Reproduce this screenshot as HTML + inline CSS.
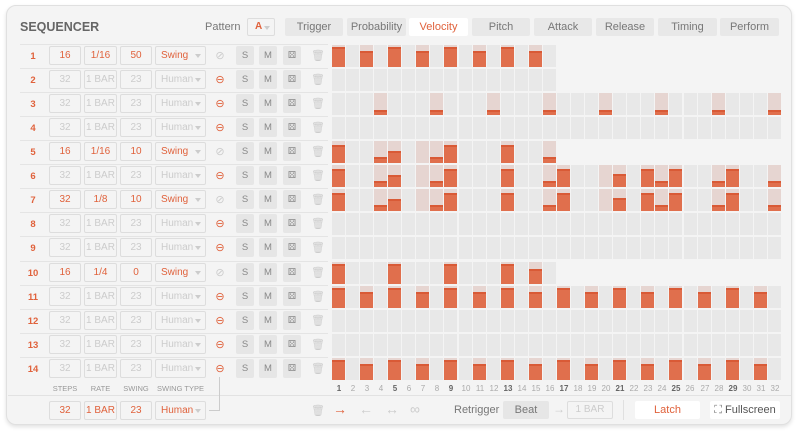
<!DOCTYPE html>
<html><head><meta charset="utf-8"><style>
*{box-sizing:border-box;margin:0;padding:0}
body{width:800px;height:433px;background:#fff;font-family:"Liberation Sans",sans-serif;position:relative;overflow:hidden}
.card{position:absolute;left:6px;top:5px;width:786px;height:420px;background:#f4f4f4;border:1px solid #e0e0e0;border-radius:10px;box-shadow:0 2px 4px rgba(0,0,0,.12)}
.a{position:absolute}
.t{position:absolute;font-size:11px;color:#777;white-space:nowrap}
.tab{position:absolute;top:18px;height:18px;background:#e8e8e8;border-radius:2px;font-size:11px;color:#777;text-align:center;line-height:18px}
.box{position:absolute;height:19px;border:1px solid #ddd;border-radius:2px;font-size:10px;text-align:center;line-height:17px;color:#ccc;background:#f4f4f4;white-space:nowrap;overflow:hidden}
.ty{text-align:left!important;padding-left:5px}
.on{color:#e0623c}
.num{position:absolute;left:22px;width:22px;text-align:center;font-size:9.5px;font-weight:bold;color:#e0623c}
.btn{position:absolute;width:18px;height:19px;background:#e6e6e6;border-radius:2px;font-size:9.5px;color:#888;text-align:center;line-height:19px}
.sep{position:absolute;left:20px;width:308px;height:1px;background:#e4e4e4}
.dd{position:absolute;right:4px;top:7px;width:0;height:0;border-left:3px solid transparent;border-right:3px solid transparent;border-top:4px solid #ccc}
.cell{position:absolute;background:#e8e8e8}
.pk{background:#e6d5d1}
.bar{position:absolute;left:0;right:0;bottom:0;background:#e06f4d;border-top:2px solid #d95a36}
.sn{position:absolute;top:384px;width:14px;text-align:center;font-size:8px;color:#aaa}
.lbl{position:absolute;top:384px;font-size:7.5px;color:#999;text-align:center}
.link{position:absolute;font-size:11px;color:#e0623c;width:16px;text-align:center}
</style></head><body>
<div class="card"></div>
<div class="t" style="left:20px;top:20px;font-size:12.5px;font-weight:bold;color:#666">SEQUENCER</div>
<div class="t" style="left:205px;top:21px">Pattern</div>
<div class="box" style="left:247px;top:18px;width:28px;height:18px;line-height:16px;color:#e0623c;text-align:left;padding-left:7px;font-weight:bold;font-size:10px">A<span class="dd"></span></div>
<div class="tab" style="left:285px;width:58px">Trigger</div>
<div class="tab" style="left:347px;width:59px">Probability</div>
<div class="tab" style="left:409px;width:59px;background:#fff;color:#e0623c">Velocity</div>
<div class="tab" style="left:472px;width:58px">Pitch</div>
<div class="tab" style="left:534px;width:58px">Attack</div>
<div class="tab" style="left:596px;width:58px">Release</div>
<div class="tab" style="left:658px;width:59px">Timing</div>
<div class="tab" style="left:720px;width:59px">Perform</div>

<div id="rows">
<div class="sep" style="top:44px"></div>
<div class="num" style="top:51px">1</div><div class="box on" style="left:49px;top:46px;width:32px">16</div><div class="box on" style="left:84px;top:46px;width:33px">1/16</div><div class="box on" style="left:120px;top:46px;width:32px">50</div><div class="box on ty" style="left:155px;top:46px;width:51px">Swing<span class="dd"></span></div><div class="link" style="left:212px;top:49px;color:#ccc">⊘</div>
<div class="sep" style="top:68px"></div>
<div class="num" style="top:75px">2</div><div class="box" style="left:49px;top:70px;width:32px">32</div><div class="box" style="left:84px;top:70px;width:33px">1 BAR</div><div class="box" style="left:120px;top:70px;width:32px">23</div><div class="box ty" style="left:155px;top:70px;width:51px">Human<span class="dd"></span></div><div class="link" style="left:212px;top:73px">⊖</div>
<div class="sep" style="top:92px"></div>
<div class="num" style="top:99px">3</div><div class="box" style="left:49px;top:94px;width:32px">32</div><div class="box" style="left:84px;top:94px;width:33px">1 BAR</div><div class="box" style="left:120px;top:94px;width:32px">23</div><div class="box ty" style="left:155px;top:94px;width:51px">Human<span class="dd"></span></div><div class="link" style="left:212px;top:97px">⊖</div>
<div class="sep" style="top:116px"></div>
<div class="num" style="top:123px">4</div><div class="box" style="left:49px;top:118px;width:32px">32</div><div class="box" style="left:84px;top:118px;width:33px">1 BAR</div><div class="box" style="left:120px;top:118px;width:32px">23</div><div class="box ty" style="left:155px;top:118px;width:51px">Human<span class="dd"></span></div><div class="link" style="left:212px;top:121px">⊖</div>
<div class="sep" style="top:140px"></div>
<div class="num" style="top:147px">5</div><div class="box on" style="left:49px;top:142px;width:32px">16</div><div class="box on" style="left:84px;top:142px;width:33px">1/16</div><div class="box on" style="left:120px;top:142px;width:32px">10</div><div class="box on ty" style="left:155px;top:142px;width:51px">Swing<span class="dd"></span></div><div class="link" style="left:212px;top:145px;color:#ccc">⊘</div>
<div class="sep" style="top:164px"></div>
<div class="num" style="top:171px">6</div><div class="box" style="left:49px;top:166px;width:32px">32</div><div class="box" style="left:84px;top:166px;width:33px">1 BAR</div><div class="box" style="left:120px;top:166px;width:32px">23</div><div class="box ty" style="left:155px;top:166px;width:51px">Human<span class="dd"></span></div><div class="link" style="left:212px;top:169px">⊖</div>
<div class="sep" style="top:188px"></div>
<div class="num" style="top:195px">7</div><div class="box on" style="left:49px;top:190px;width:32px">32</div><div class="box on" style="left:84px;top:190px;width:33px">1/8</div><div class="box on" style="left:120px;top:190px;width:32px">10</div><div class="box on ty" style="left:155px;top:190px;width:51px">Swing<span class="dd"></span></div><div class="link" style="left:212px;top:193px;color:#ccc">⊘</div>
<div class="sep" style="top:212px"></div>
<div class="num" style="top:219px">8</div><div class="box" style="left:49px;top:214px;width:32px">32</div><div class="box" style="left:84px;top:214px;width:33px">1 BAR</div><div class="box" style="left:120px;top:214px;width:32px">23</div><div class="box ty" style="left:155px;top:214px;width:51px">Human<span class="dd"></span></div><div class="link" style="left:212px;top:217px">⊖</div>
<div class="sep" style="top:236px"></div>
<div class="num" style="top:243px">9</div><div class="box" style="left:49px;top:238px;width:32px">32</div><div class="box" style="left:84px;top:238px;width:33px">1 BAR</div><div class="box" style="left:120px;top:238px;width:32px">23</div><div class="box ty" style="left:155px;top:238px;width:51px">Human<span class="dd"></span></div><div class="link" style="left:212px;top:241px">⊖</div>
<div class="sep" style="top:261px"></div>
<div class="num" style="top:268px">10</div><div class="box on" style="left:49px;top:263px;width:32px">16</div><div class="box on" style="left:84px;top:263px;width:33px">1/4</div><div class="box on" style="left:120px;top:263px;width:32px">0</div><div class="box on ty" style="left:155px;top:263px;width:51px">Swing<span class="dd"></span></div><div class="link" style="left:212px;top:266px;color:#ccc">⊘</div>
<div class="sep" style="top:285px"></div>
<div class="num" style="top:292px">11</div><div class="box" style="left:49px;top:287px;width:32px">32</div><div class="box" style="left:84px;top:287px;width:33px">1 BAR</div><div class="box" style="left:120px;top:287px;width:32px">23</div><div class="box ty" style="left:155px;top:287px;width:51px">Human<span class="dd"></span></div><div class="link" style="left:212px;top:290px">⊖</div>
<div class="sep" style="top:309px"></div>
<div class="num" style="top:316px">12</div><div class="box" style="left:49px;top:311px;width:32px">32</div><div class="box" style="left:84px;top:311px;width:33px">1 BAR</div><div class="box" style="left:120px;top:311px;width:32px">23</div><div class="box ty" style="left:155px;top:311px;width:51px">Human<span class="dd"></span></div><div class="link" style="left:212px;top:314px">⊖</div>
<div class="sep" style="top:333px"></div>
<div class="num" style="top:340px">13</div><div class="box" style="left:49px;top:335px;width:32px">32</div><div class="box" style="left:84px;top:335px;width:33px">1 BAR</div><div class="box" style="left:120px;top:335px;width:32px">23</div><div class="box ty" style="left:155px;top:335px;width:51px">Human<span class="dd"></span></div><div class="link" style="left:212px;top:338px">⊖</div>
<div class="sep" style="top:357px"></div>
<div class="num" style="top:364px">14</div><div class="box" style="left:49px;top:359px;width:32px">32</div><div class="box" style="left:84px;top:359px;width:33px">1 BAR</div><div class="box" style="left:120px;top:359px;width:32px">23</div><div class="box ty" style="left:155px;top:359px;width:51px">Human<span class="dd"></span></div><div class="link" style="left:212px;top:362px">⊖</div>
</div>

<div id="btns">
<div class="btn" style="left:236px;top:46px">S</div><div class="btn" style="left:259px;top:46px">M</div><div class="btn" style="left:283px;top:46px">⚄</div><div class="t" style="left:311px;top:49px;color:#ccc">🗑</div>
<div class="btn" style="left:236px;top:70px">S</div><div class="btn" style="left:259px;top:70px">M</div><div class="btn" style="left:283px;top:70px">⚄</div><div class="t" style="left:311px;top:73px;color:#ccc">🗑</div>
<div class="btn" style="left:236px;top:94px">S</div><div class="btn" style="left:259px;top:94px">M</div><div class="btn" style="left:283px;top:94px">⚄</div><div class="t" style="left:311px;top:97px;color:#ccc">🗑</div>
<div class="btn" style="left:236px;top:118px">S</div><div class="btn" style="left:259px;top:118px">M</div><div class="btn" style="left:283px;top:118px">⚄</div><div class="t" style="left:311px;top:121px;color:#ccc">🗑</div>
<div class="btn" style="left:236px;top:142px">S</div><div class="btn" style="left:259px;top:142px">M</div><div class="btn" style="left:283px;top:142px">⚄</div><div class="t" style="left:311px;top:145px;color:#ccc">🗑</div>
<div class="btn" style="left:236px;top:166px">S</div><div class="btn" style="left:259px;top:166px">M</div><div class="btn" style="left:283px;top:166px">⚄</div><div class="t" style="left:311px;top:169px;color:#ccc">🗑</div>
<div class="btn" style="left:236px;top:190px">S</div><div class="btn" style="left:259px;top:190px">M</div><div class="btn" style="left:283px;top:190px">⚄</div><div class="t" style="left:311px;top:193px;color:#ccc">🗑</div>
<div class="btn" style="left:236px;top:214px">S</div><div class="btn" style="left:259px;top:214px">M</div><div class="btn" style="left:283px;top:214px">⚄</div><div class="t" style="left:311px;top:217px;color:#ccc">🗑</div>
<div class="btn" style="left:236px;top:238px">S</div><div class="btn" style="left:259px;top:238px">M</div><div class="btn" style="left:283px;top:238px">⚄</div><div class="t" style="left:311px;top:241px;color:#ccc">🗑</div>
<div class="btn" style="left:236px;top:263px">S</div><div class="btn" style="left:259px;top:263px">M</div><div class="btn" style="left:283px;top:263px">⚄</div><div class="t" style="left:311px;top:266px;color:#ccc">🗑</div>
<div class="btn" style="left:236px;top:287px">S</div><div class="btn" style="left:259px;top:287px">M</div><div class="btn" style="left:283px;top:287px">⚄</div><div class="t" style="left:311px;top:290px;color:#ccc">🗑</div>
<div class="btn" style="left:236px;top:311px">S</div><div class="btn" style="left:259px;top:311px">M</div><div class="btn" style="left:283px;top:311px">⚄</div><div class="t" style="left:311px;top:314px;color:#ccc">🗑</div>
<div class="btn" style="left:236px;top:335px">S</div><div class="btn" style="left:259px;top:335px">M</div><div class="btn" style="left:283px;top:335px">⚄</div><div class="t" style="left:311px;top:338px;color:#ccc">🗑</div>
<div class="btn" style="left:236px;top:359px">S</div><div class="btn" style="left:259px;top:359px">M</div><div class="btn" style="left:283px;top:359px">⚄</div><div class="t" style="left:311px;top:362px;color:#ccc">🗑</div>
</div>

<div id="grid"></div>

<div class="lbl" style="left:49px;width:32px">STEPS</div>
<div class="lbl" style="left:84px;width:33px">RATE</div>
<div class="lbl" style="left:120px;width:32px">SWING</div>
<div class="lbl" style="left:155px;width:51px">SWING TYPE</div>
<div class="sn" style="left:332px;font-weight:bold;color:#666">1</div><div class="sn" style="left:346px">2</div><div class="sn" style="left:360px">3</div><div class="sn" style="left:374px">4</div><div class="sn" style="left:388px;font-weight:bold;color:#666">5</div><div class="sn" style="left:402px">6</div><div class="sn" style="left:416px">7</div><div class="sn" style="left:430px">8</div><div class="sn" style="left:444px;font-weight:bold;color:#666">9</div><div class="sn" style="left:459px">10</div><div class="sn" style="left:473px">11</div><div class="sn" style="left:487px">12</div><div class="sn" style="left:501px;font-weight:bold;color:#666">13</div><div class="sn" style="left:515px">14</div><div class="sn" style="left:529px">15</div><div class="sn" style="left:543px">16</div><div class="sn" style="left:557px;font-weight:bold;color:#666">17</div><div class="sn" style="left:571px">18</div><div class="sn" style="left:585px">19</div><div class="sn" style="left:599px">20</div><div class="sn" style="left:613px;font-weight:bold;color:#666">21</div><div class="sn" style="left:627px">22</div><div class="sn" style="left:641px">23</div><div class="sn" style="left:655px">24</div><div class="sn" style="left:669px;font-weight:bold;color:#666">25</div><div class="sn" style="left:683px">26</div><div class="sn" style="left:698px">27</div><div class="sn" style="left:712px">28</div><div class="sn" style="left:726px;font-weight:bold;color:#666">29</div><div class="sn" style="left:740px">30</div><div class="sn" style="left:754px">31</div><div class="sn" style="left:768px">32</div>

<div class="a" style="left:8px;top:395px;width:783px;height:1px;background:#e2e2e2"></div>
<div class="box on" style="left:49px;top:401px;width:32px">32</div>
<div class="box on" style="left:84px;top:401px;width:33px">1 BAR</div>
<div class="box on" style="left:120px;top:401px;width:32px">23</div>
<div class="box on ty" style="left:155px;top:401px;width:51px">Human<span class="dd"></span></div>
<div class="a" style="left:219px;top:377px;width:1px;height:33px;background:#ccc"></div>
<div class="a" style="left:209px;top:410px;width:11px;height:1px;background:#ccc"></div>
<div class="t" style="left:311px;top:404px;color:#ccc">🗑</div>
<div class="t" style="left:333px;top:401px;color:#e0623c;font-size:14px">→</div>
<div class="t" style="left:359px;top:401px;color:#ccc;font-size:14px">←</div>
<div class="t" style="left:385px;top:401px;color:#ccc;font-size:14px">↔</div>
<div class="t" style="left:410px;top:401px;color:#ccc;font-size:14px">∞</div>
<div class="t" style="left:454px;top:404px;font-size:11px">Retrigger</div>
<div class="a" style="left:503px;top:401px;width:46px;height:18px;background:#e6e6e6;border-radius:2px;font-size:11px;color:#777;text-align:center;line-height:18px">Beat</div>
<div class="t" style="left:553px;top:402px;color:#ccc;font-size:12px">→</div>
<div class="box" style="left:567px;top:401px;width:46px;height:18px;line-height:16px;font-size:10px">1 BAR</div>
<div class="a" style="left:623px;top:400px;width:1px;height:20px;background:#e0e0e0"></div>
<div class="a" style="left:635px;top:401px;width:65px;height:18px;background:#fff;border-radius:2px;font-size:11px;color:#e0623c;text-align:center;line-height:18px">Latch</div>
<div class="a" style="left:710px;top:401px;width:70px;height:18px;background:#fff;border-radius:2px;font-size:11px;color:#555;text-align:center;line-height:18px"><span style="color:#777">⛶</span> Fullscreen</div>

<script>
var R=[
[16,{1:.93,5:.93,9:.93,13:.93,3:.72,7:.72,11:.72,15:.72}],
[16,{}],
[32,{4:.22,8:.22,12:.22,16:.22,20:.22,24:.22,28:.22,32:.22}],
[32,{}],
[16,{1:.8,4:.25,5:.55,7:0,8:.25,9:.8,13:.8,16:.25}],
[32,{1:.8,4:.25,5:.55,7:0,8:.25,9:.8,13:.8,16:.25,17:.8,20:0,21:.6,23:.8,24:.25,25:.8,28:.25,29:.8,32:.25}],
[32,{1:.8,4:.25,5:.55,7:0,8:.25,9:.8,13:.8,16:.25,17:.8,20:0,21:.6,23:.8,24:.25,25:.8,28:.25,29:.8,32:.25}],
[32,{}],[32,{}],
[16,{1:.93,5:.93,9:.93,13:.93,15:.7}],
[32,{}],[32,{}],[32,{}],[32,{}]];
var o2={};for(var k=1;k<=32;k++){if(k%4==1)o2[k]=.93;else if(k%4==3)o2[k]=.72;}
R[10]=[32,o2];R[13]=[32,o2];
var tops=[45,69,93,117,141,165,189,213,237,262,286,310,334,358];
var h='';
R.forEach(function(r,i){for(var c=1;c<=r[0];c++){var x=332+Math.round((c-1)*14.06);var v=r[1][c];
h+='<div class="cell'+(v!==undefined?' pk':'')+'" style="left:'+x+'px;top:'+tops[i]+'px;width:13px;height:22px">';
if(v)h+='<div class="bar" style="height:'+Math.round(22*v)+'px"></div>';h+='</div>';}});
document.getElementById('grid').innerHTML=h;
</script>
</body></html>
